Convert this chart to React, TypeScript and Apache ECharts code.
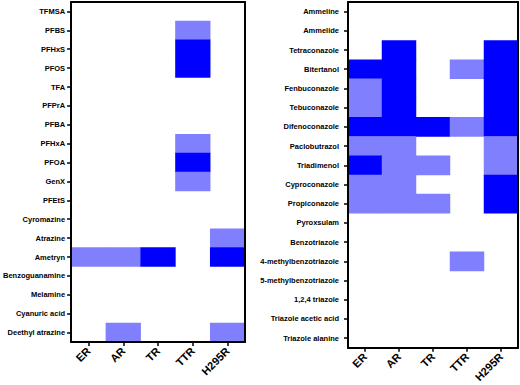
import React, { useEffect, useRef } from "react";
import * as echarts from "echarts";

const assays = ["ER", "AR", "TR", "TTR", "H295R"];

const leftCompounds = [
  "TFMSA", "PFBS", "PFHxS", "PFOS", "TFA", "PFPrA", "PFBA", "PFHxA", "PFOA",
  "GenX", "PFEtS", "Cyromazine", "Atrazine", "Ametryn", "Benzoguanamine",
  "Melamine", "Cyanuric acid", "Deethyl atrazine",
];
// 0 = inactive, 1 = weak (light blue), 2 = strong (dark blue); columns ER, AR, TR, TTR, H295R
const leftValues = [
  [0, 0, 0, 0, 0],
  [0, 0, 0, 1, 0],
  [0, 0, 0, 2, 0],
  [0, 0, 0, 2, 0],
  [0, 0, 0, 0, 0],
  [0, 0, 0, 0, 0],
  [0, 0, 0, 0, 0],
  [0, 0, 0, 1, 0],
  [0, 0, 0, 2, 0],
  [0, 0, 0, 1, 0],
  [0, 0, 0, 0, 0],
  [0, 0, 0, 0, 0],
  [0, 0, 0, 0, 1],
  [1, 1, 2, 0, 2],
  [0, 0, 0, 0, 0],
  [0, 0, 0, 0, 0],
  [0, 0, 0, 0, 0],
  [0, 1, 0, 0, 1],
];

const rightCompounds = [
  "Ammeline", "Ammelide", "Tetraconazole", "Bitertanol", "Fenbuconazole",
  "Tebuconazole", "Difenoconazole", "Paclobutrazol", "Triadimenol",
  "Cyproconazole", "Propiconazole", "Pyroxsulam", "Benzotriazole",
  "4-methylbenzotriazole", "5-methylbenzotriazole", "1,2,4 triazole",
  "Triazole acetic acid", "Triazole alanine",
];
const rightValues = [
  [0, 0, 0, 0, 0],
  [0, 0, 0, 0, 0],
  [0, 2, 0, 0, 2],
  [2, 2, 0, 1, 2],
  [1, 2, 0, 0, 2],
  [1, 2, 0, 0, 2],
  [2, 2, 2, 1, 2],
  [1, 1, 0, 0, 1],
  [2, 1, 1, 0, 1],
  [1, 1, 0, 0, 2],
  [1, 1, 1, 0, 2],
  [0, 0, 0, 0, 0],
  [0, 0, 0, 0, 0],
  [0, 0, 0, 1, 0],
  [0, 0, 0, 0, 0],
  [0, 0, 0, 0, 0],
  [0, 0, 0, 0, 0],
  [0, 0, 0, 0, 0],
];

const FONT = "'Liberation Sans', Arial, Helvetica, sans-serif";

function toCells(values: number[][]) {
  const out: number[][] = [];
  values.forEach((row, r) =>
    row.forEach((v, c) => {
      if (v > 0) out.push([c, r, v]);
    })
  );
  return out;
}

export default function App() {
  const ref = useRef<HTMLDivElement>(null);
  useEffect(() => {
    if (!ref.current) return;
    const chart = echarts.init(ref.current, null, { renderer: "svg" });
    const frameLine = { show: true, lineStyle: { color: "#000", width: 2 } };
    const xAxisBase = (gridIndex: number) => ({
      type: "category" as const,
      gridIndex,
      data: assays,
      position: "bottom" as const,
      z: 10,
      axisLine: frameLine,
      axisTick: { show: true, alignWithLabel: true, length: 4, lineStyle: { color: "#000", width: 1.5 } },
      axisLabel: {
        rotate: 45, color: "#000", fontWeight: "bold" as const, fontSize: 11,
        fontFamily: FONT, margin: 7,
      },
      splitLine: { show: false },
    });
    const xAxisTop = (gridIndex: number) => ({
      type: "category" as const,
      gridIndex,
      data: assays,
      position: "top" as const,
      z: 10,
      axisLine: frameLine,
      axisTick: { show: false },
      axisLabel: { show: false },
      splitLine: { show: false },
    });
    const yAxisBase = (gridIndex: number, data: string[], margin: number) => ({
      type: "category" as const,
      gridIndex,
      data,
      inverse: true,
      position: "left" as const,
      z: 10,
      axisLine: frameLine,
      axisTick: { show: true, alignWithLabel: true, length: 4, lineStyle: { color: "#000", width: 1.5 } },
      axisLabel: {
        color: "#000", fontWeight: "bold" as const, fontSize: 7.5,
        fontFamily: FONT, margin,
      },
      splitLine: { show: false },
    });
    const yAxisRight = (gridIndex: number, data: string[]) => ({
      type: "category" as const,
      gridIndex,
      data,
      inverse: true,
      position: "right" as const,
      z: 10,
      axisLine: frameLine,
      axisTick: { show: false },
      axisLabel: { show: false },
      splitLine: { show: false },
    });
    chart.setOption({
      animation: false,
      backgroundColor: "#fff",
      grid: [
        { left: 66, top: 2, width: 179, height: 340 },
        { left: 348, top: 2, width: 170, height: 348 },
      ],
      xAxis: [xAxisBase(0), xAxisBase(1), xAxisTop(0), xAxisTop(1)],
      yAxis: [
        yAxisBase(0, leftCompounds, 6), yAxisBase(1, rightCompounds, 9),
        yAxisRight(0, leftCompounds), yAxisRight(1, rightCompounds),
      ],
      visualMap: {
        type: "piecewise",
        show: false,
        dimension: 2,
        seriesIndex: [0, 1],
        pieces: [
          { value: 1, color: "#8080ff" },
          { value: 2, color: "#0000ff" },
        ],
      },
      series: [
        {
          type: "heatmap", xAxisIndex: 0, yAxisIndex: 0,
          data: toCells(leftValues),
          itemStyle: { borderWidth: 0 },
          emphasis: { disabled: true },
        },
        {
          type: "heatmap", xAxisIndex: 1, yAxisIndex: 1,
          data: toCells(rightValues),
          itemStyle: { borderWidth: 0 },
          emphasis: { disabled: true },
        },
      ],
    });
    return () => chart.dispose();
  }, []);
  return (
    <div
      ref={ref}
      style={{ position: "fixed", left: 0, top: 0, width: 520, height: 385 }}
    />
  );
}
